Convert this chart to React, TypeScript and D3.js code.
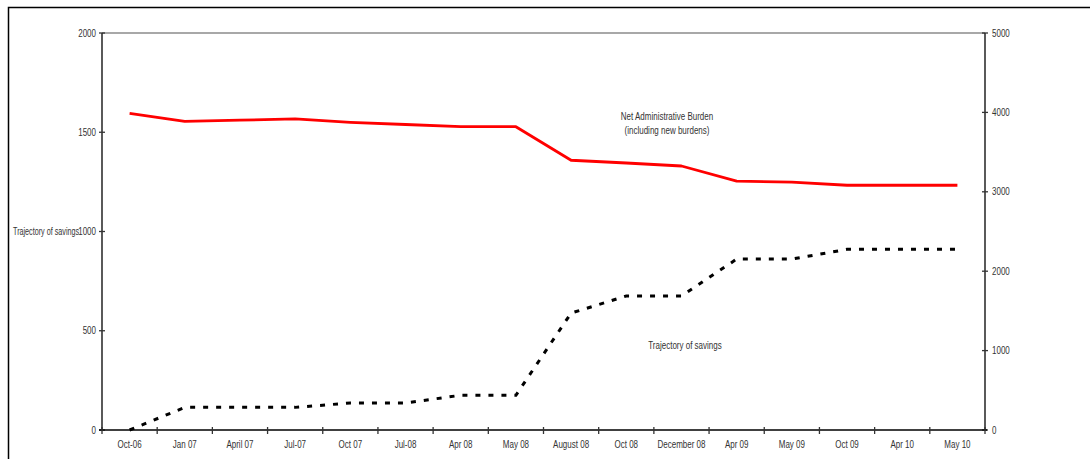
import React from "react";
import * as d3 from "d3";

const categories = [
  "Oct-06", "Jan 07", "April 07", "Jul-07", "Oct 07", "Jul-08", "Apr 08", "May 08",
  "August 08", "Oct 08", "December 08", "Apr 09", "May 09", "Oct 09", "Apr 10", "May 10",
];
const netBurden = [1595, 1555, 1561, 1567, 1550, 1539, 1528, 1528, 1359, 1345, 1330, 1254, 1249, 1233, 1233, 1233];
const savings = [0, 114, 114, 114, 136, 136, 175, 175, 589, 675, 675, 861, 861, 910, 910, 910];
const leftTicks = [0, 500, 1000, 1500, 2000];
const rightTicks = [0, 1000, 2000, 3000, 4000, 5000];

const W = 1090;
const H = 459;
const FONT = "'Liberation Sans', Arial, sans-serif";
const SX = 0.8;

type NTProps = { x: number; y: number; anchor?: "start" | "middle" | "end"; children: React.ReactNode; size?: number; dy?: string; sx?: number };
function NText({ x, y, anchor = "start", children, size = 10, dy, sx = SX }: NTProps) {
  return (
    <text
      transform={`translate(${x},${y}) scale(${sx},1)`}
      x={0}
      y={0}
      dy={dy}
      textAnchor={anchor}
      fontSize={size}
      fill="#333"
      fontFamily={FONT}
    >
      {children}
    </text>
  );
}

export default function App() {
  const x0 = 102, x1 = 985, yTop = 33, yBot = 430;
  const x = d3.scaleBand<string>().domain(categories).range([x0, x1]).padding(0);
  const yL = d3.scaleLinear().domain([0, 2000]).range([yBot, yTop]);
  const yR = d3.scaleLinear().domain([0, 5000]).range([yBot, yTop]);
  const cx = (c: string) => (x(c) as number) + x.bandwidth() / 2;
  const line = d3.line<number>().x((_, i) => cx(categories[i])).y((d) => yL(d));
  const boundaries = categories.map((c) => x(c) as number).concat([x1]);

  return (
    <svg width={W} height={H} style={{ position: "absolute", left: 0, top: 0 }} fontFamily={FONT}>
      <rect x={0} y={0} width={W} height={H} fill="#fff" />
      <rect x={8.5} y={7.5} width={1200} height={600} fill="none" stroke="#000" strokeWidth={1.5} />
      {/* top gridline */}
      <line x1={x0} x2={x1} y1={yTop} y2={yTop} stroke="#a8a8a8" strokeWidth={2} />
      {/* left axis */}
      <line x1={x0} x2={x0} y1={yTop} y2={yBot} stroke="#000" strokeWidth={1.3} />
      {leftTicks.map((t) => (
        <g key={"l" + t}>
          <line x1={x0 - 3} x2={x0 + 3} y1={yL(t)} y2={yL(t)} stroke="#333" strokeWidth={1.3} />
          <NText x={x0 - 6} y={yL(t)} dy="0.35em" anchor="end">{t}</NText>
        </g>
      ))}
      {/* right axis */}
      <line x1={x1} x2={x1} y1={yTop} y2={yBot} stroke="#000" strokeWidth={1.3} />
      {rightTicks.map((t) => (
        <g key={"r" + t}>
          <line x1={x1 - 3} x2={x1 + 3} y1={yR(t)} y2={yR(t)} stroke="#333" strokeWidth={1.3} />
          <NText x={x1 + 7} y={yR(t)} dy="0.35em" anchor="start">{t}</NText>
        </g>
      ))}
      {/* x axis */}
      <line x1={x0 - 3} x2={x1 + 2} y1={yBot} y2={yBot} stroke="#000" strokeWidth={1.3} />
      {boundaries.map((b, i) => (
        <line key={"b" + i} x1={b} x2={b} y1={yBot - 3} y2={yBot + 4} stroke="#333" strokeWidth={1.3} />
      ))}
      {categories.map((c) => (
        <NText key={c} x={cx(c)} y={448} anchor="middle">{c}</NText>
      ))}
      {/* lines */}
      <path d={line(netBurden) || ""} fill="none" stroke="#ff0000" strokeWidth={2.8} strokeLinejoin="round" />
      <path d={line(savings) || ""} fill="none" stroke="#000" strokeWidth={3} strokeDasharray="5,8" />
      {/* annotations */}
      <NText x={13} y={yL(1000)} dy="0.35em" sx={0.72}>Trajectory of savings</NText>
      <NText x={667} y={120} anchor="middle">Net Administrative Burden</NText>
      <NText x={667} y={134} anchor="middle">(including new burdens)</NText>
      <NText x={685} y={349} anchor="middle">Trajectory of savings</NText>
    </svg>
  );
}
